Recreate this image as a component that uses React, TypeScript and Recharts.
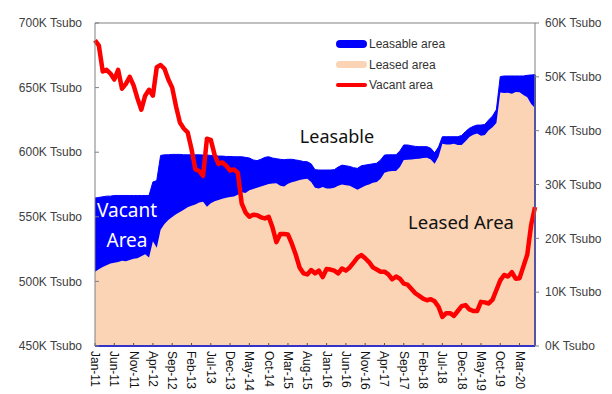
import React from 'react';
import { ComposedChart, Area, Line, XAxis, YAxis, Legend, ReferenceLine } from 'recharts';

// monthly values, Jan-11 .. Jul-20 (thousand tsubo)
const leasable = [
  564.5, 565, 565.5, 566, 566, 566.5, 566.5, 566.5, 566.5, 566.5, 566.5, 566.5, 566.5, 566.5, 566.5,
  577, 578, 597.5, 598, 598, 598.3, 598.3, 598.3, 598, 598, 598, 598, 598, 597.8, 597.8,
  597.5, 597.5, 597, 597, 596.7, 596.7, 596.5, 596.5, 596.5, 596, 595.5, 594, 593.5, 594.5, 596,
  596.5, 595.5, 595, 594.5, 594.2, 594.5, 594.5, 594, 593.5, 592.8, 592.6, 591, 586.5, 586.2, 586.2,
  586.2, 586.2, 586.5, 588.5, 590, 589.5, 589, 588, 587.5, 589.5, 590, 590.5, 591, 591.5, 594,
  597.8, 598, 598, 598, 601, 605.6, 605.6, 605, 604.5, 604.3, 604.3, 604.3, 603, 599.5, 604,
  612, 612, 612, 612, 612, 613, 616, 618.5, 620, 621, 621, 621.5, 625, 628, 633,
  658.5, 659, 659, 659, 659, 659, 659, 659.5, 659.8, 660,
];

const leased = [
  507.5, 509.5, 511.2, 512.5, 513.8, 514.5, 515, 516, 515.5, 516.5, 517.5, 518, 519.5, 521, 518.5,
  531, 526, 540, 544.5, 547.5, 549.8, 552, 553.8, 555.5, 557.3, 558.5, 559.5, 561, 561.7, 557.8,
  560.5, 562, 563, 564, 564.8, 565.3, 565.8, 567, 569, 568.5, 570.5, 571.5, 572.5, 573.5, 574.5,
  575.3, 575.8, 575.9, 574, 573.5, 575.5, 576.8, 577.5, 578.5, 579, 579.5, 577, 572.5, 572, 573,
  572, 572, 572.5, 574, 575, 574.5, 574, 572.5, 571, 572.5, 574, 575, 576.3, 577, 579.5,
  584, 585, 585.5, 585.5, 588.5, 594, 594.2, 594.4, 594.7, 595, 595.5, 595.8, 594.3, 591, 596.5,
  606.6, 606, 606, 606.5, 605.5, 605.6, 608.4, 611.7, 613.5, 614.5, 612.8, 613.4, 617, 619.4, 622.6,
  646.3, 645.8, 646.1, 645.3, 646.5, 646.4, 644.2, 642.5, 637.3, 634.2,
];

const vacant = [
  56.8, 55.8, 51, 51.3, 50.6, 49.5, 51.3, 47.8, 48.7, 50, 48.4, 46, 43.9, 46.5, 47.6,
  46.5, 51.8, 52.2, 51.5, 49.5, 48, 44.5, 41.5, 40.4, 39.7, 36.6, 32.8, 32.5, 31.6, 38.5,
  38.3, 35.5, 33.8, 34.1, 33.5, 32.6, 32.8, 32.2, 26.5, 24.8, 24, 24.4, 24.3, 23.9, 23.7,
  24, 22, 19.3, 20.8, 20.8, 20.7, 19, 17, 14.6, 13.5, 13.3, 14.1, 13.5, 14, 12.8,
  14.3, 14.2, 14, 13.5, 14.4, 14, 14.6, 15.5, 16.4, 16.9, 16.3, 15.6, 14.6, 14.2, 13.8,
  13.8, 13.3, 12.4, 12.9, 12.5, 11.6, 11.4, 10.6, 9.8, 9.3, 8.8, 8.5, 8.7, 8.3, 7.3,
  5.4, 6.1, 6.1, 5.6, 6.5, 7.4, 7.6, 6.8, 6.5, 6.5, 8.2, 8.1, 7.9, 8.6, 10.4,
  12.2, 13.2, 12.9, 13.7, 12.5, 12.6, 14.8, 17, 22.5, 25.8,
];

const monthNames = ['Jan', 'Feb', 'Mar', 'Apr', 'May', 'Jun', 'Jul', 'Aug', 'Sep', 'Oct', 'Nov', 'Dec'];
const startYear = 11;
const months = leasable.map((_, i) => `${monthNames[i % 12]}-${startYear + Math.floor(i / 12)}`);

const leftTicks = [450, 500, 550, 600, 650, 700];
const rightTicks = [0, 10, 20, 30, 40, 50, 60];

const data = months.map((m, i) => ({
  month: m,
  leasable: leasable[i],
  leased: leased[i],
  vacant: vacant[i],
}));

const tickFont = 'Liberation Sans, Arial, sans-serif';

const MonthTick = (props: any) => {
  const { x, y, payload } = props;
  return (
    <text
      x={x}
      y={y}
      transform={`rotate(90, ${x}, ${y})`}
      textAnchor="start"
      dominantBaseline="central"
      fontSize={12}
      fontFamily={tickFont}
      fill="#111"
    >
      {payload.value}
    </text>
  );
};

const legendItems = [
  { label: 'Leasable area', color: '#0000ff', h: 8 },
  { label: 'Leased area', color: '#fad4b5', h: 7 },
  { label: 'Vacant area', color: '#ff0000', h: 4 },
];

const renderLegend = () => (
  <div style={{ fontFamily: tickFont, fontSize: 12, color: '#333' }}>
    {legendItems.map((it) => (
      <div key={it.label} style={{ display: 'flex', alignItems: 'center', height: 20.5 }}>
        <div style={{ width: 31, height: it.h, background: it.color, borderRadius: it.h / 2, marginRight: 2 }} />
        <span>{it.label}</span>
      </div>
    ))}
  </div>
);

const note = (text: string, x: number, y: number, color: string, size: number) => (
  <div
    style={{
      position: 'absolute',
      left: x,
      top: y,
      transform: 'translate(-50%, -50%)',
      fontFamily: 'Noto Sans, sans-serif',
      fontSize: size,
      lineHeight: 1,
      color,
      whiteSpace: 'nowrap',
      pointerEvents: 'none',
    }}
  >
    {text}
  </div>
);

export default function App() {
  const last = data.length - 1;
  return (
    <div style={{ position: 'absolute', left: 0, top: 0, width: 612, height: 394, background: '#fff' }}>
      <ComposedChart width={612} height={394} data={data} margin={{ top: 23, right: 0, bottom: 0, left: 0 }}>
        <XAxis
          dataKey="month"
          interval={4}
          tick={<MonthTick />}
          tickSize={-3}
          tickMargin={8}
          height={48}
          axisLine={{ stroke: '#3333cc', strokeWidth: 2 }}
          tickLine={{ stroke: '#555' }}
        />
        <YAxis
          yAxisId="left"
          domain={[450, 700]}
          ticks={leftTicks}
          width={95}
          tickSize={-4}
          tickMargin={17}
          tickFormatter={(v) => `${v}K Tsubo`}
          tick={{ fontSize: 12, fill: '#404040', fontFamily: tickFont }}
          axisLine={{ stroke: '#808080' }}
          tickLine={{ stroke: '#808080' }}
          allowDataOverflow
        />
        <YAxis
          yAxisId="right"
          orientation="right"
          domain={[0, 60]}
          ticks={rightTicks}
          width={77}
          tickSize={4}
          tickMargin={6}
          tickFormatter={(v) => `${v}K Tsubo`}
          tick={{ fontSize: 12, fill: '#404040', fontFamily: tickFont }}
          axisLine={{ stroke: '#808080' }}
          tickLine={{ stroke: '#808080' }}
        />
        <ReferenceLine yAxisId="left" y={700} stroke="#808080" />
        <Area
          yAxisId="left"
          type="linear"
          dataKey="leasable"
          name="Leasable area"
          baseValue={leftTicks[0]}
          fill="#0000ff"
          fillOpacity={1}
          stroke="#0000ff"
          strokeWidth={1}
          isAnimationActive={false}
        />
        <Area
          yAxisId="left"
          type="linear"
          dataKey="leased"
          name="Leased area"
          baseValue={leftTicks[0]}
          fill="#fad4b5"
          fillOpacity={1}
          stroke="none"
          isAnimationActive={false}
        />
        <ReferenceLine
          yAxisId="left"
          segment={[
            { x: months[last], y: leftTicks[0] },
            { x: months[last], y: leasable[last] },
          ]}
          stroke="#2a2acc"
          strokeWidth={2}
        />
        <Line
          yAxisId="right"
          type="linear"
          dataKey="vacant"
          name="Vacant area"
          stroke="#ff0000"
          strokeWidth={4.5}
          strokeLinejoin="round"
          dot={false}
          isAnimationActive={false}
        />
        <Legend
          layout="vertical"
          align="center"
          verticalAlign="middle"
          content={renderLegend}
          wrapperStyle={{ left: 336, top: 34, width: 120 }}
        />
      </ComposedChart>
      {note('Leasable', 337, 136, '#111', 18)}
      {note('Vacant', 127, 210, '#fff', 19)}
      {note('Area', 127, 240, '#fff', 19)}
      {note('Leased Area', 461, 222, '#111', 18.5)}
    </div>
  );
}
